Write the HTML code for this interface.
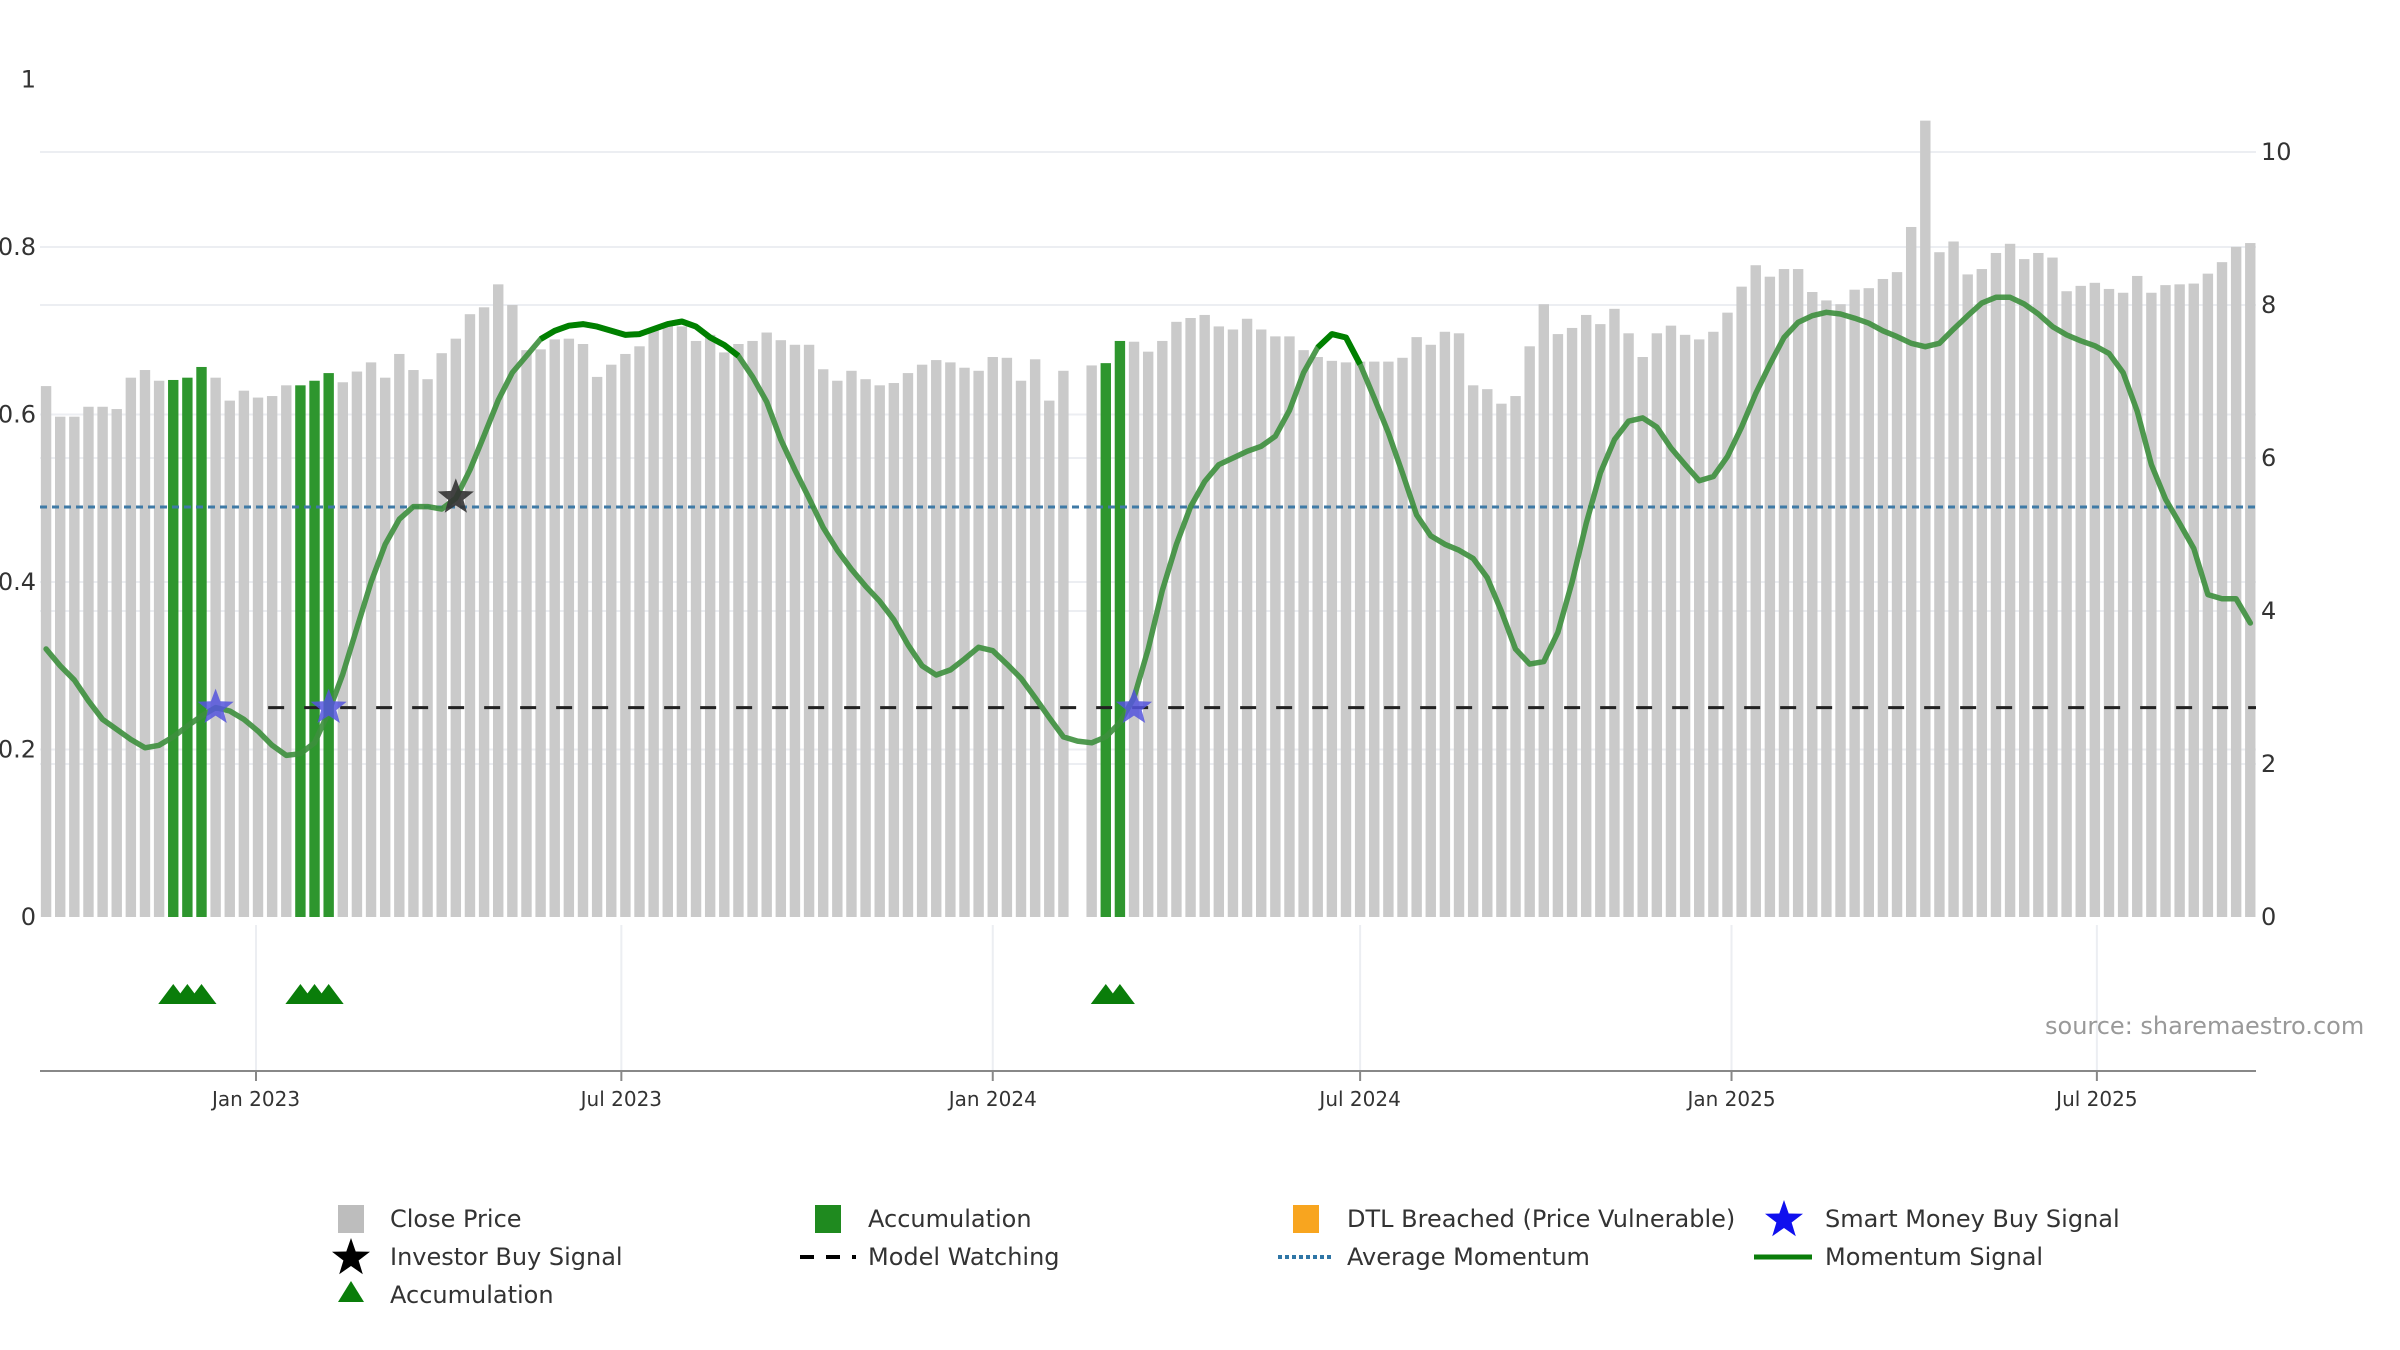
<!DOCTYPE html>
<html><head><meta charset="utf-8"><style>
html,body{margin:0;padding:0;background:#fff;}
svg{display:block;font-family:"DejaVu Sans","Liberation Sans",sans-serif;}
</style></head><body>
<svg id="chart" width="2400" height="1350" viewBox="0 0 2400 1350" xmlns="http://www.w3.org/2000/svg">
<g id="grid"></g>
<g id="bars"></g>
<g id="lines"></g>
<g id="marks"></g>
<g id="axes"></g>
<text x="2045" y="1034" font-size="24" fill="#999">source: sharemaestro.com</text>
<g id="legend" font-size="24" fill="#333"></g>
</svg>
<script>
const startDate = "2022-09-19";
const closePrices = [6.94,6.54,6.54,6.67,6.67,6.64,7.05,7.15,7.01,7.02,7.05,7.19,7.05,6.75,6.88,6.79,6.81,6.95,6.95,7.01,
7.11,6.99,7.13,7.25,7.05,7.36,7.15,7.03,7.37,7.56,7.88,7.97,8.27,8.00,7.41,7.42,7.55,7.56,7.49,7.06,
7.22,7.36,7.46,7.70,7.76,7.72,7.53,7.61,7.38,7.49,7.53,7.64,7.54,7.48,7.48,7.16,7.01,7.14,7.03,6.95,
6.98,7.11,7.22,7.28,7.25,7.18,7.14,7.32,7.31,7.01,7.29,6.75,7.14,null,7.21,7.24,7.53,7.52,7.39,7.53,
7.78,7.83,7.87,7.72,7.68,7.82,7.68,7.59,7.59,7.41,7.32,7.27,7.25,7.26,7.26,7.26,7.31,7.58,7.48,7.65,
7.63,6.95,6.90,6.71,6.81,7.46,8.01,7.62,7.70,7.87,7.75,7.95,7.63,7.32,7.63,7.73,7.61,7.55,7.65,7.90,
8.24,8.52,8.37,8.47,8.47,8.17,8.06,8.01,8.20,8.22,8.34,8.43,9.02,10.41,8.69,8.83,8.40,8.47,8.68,8.80,
8.60,8.68,8.62,8.18,8.25,8.29,8.21,8.16,8.38,8.16,8.26,8.27,8.28,8.41,8.56,8.76,8.81];
const momentum = [0.320,0.300,0.283,0.258,0.236,0.224,0.212,0.202,0.205,0.215,
0.228,0.240,0.250,0.246,0.236,0.222,0.205,0.193,0.195,0.208,
0.245,0.290,0.345,0.400,0.445,0.475,0.490,0.490,0.487,0.500,
0.534,0.575,0.617,0.650,0.670,0.690,0.700,0.706,0.708,0.705,
0.700,0.695,0.696,0.702,0.708,0.711,0.705,0.692,0.683,0.670,
0.645,0.615,0.570,0.534,0.500,0.465,0.438,0.415,0.395,0.377,
0.355,0.325,0.300,0.289,0.295,0.308,0.322,0.318,0.302,0.285,
0.262,0.238,0.215,0.210,0.208,0.215,0.232,0.262,0.320,0.390,
0.445,0.490,0.520,0.540,0.548,0.556,0.562,0.574,0.605,0.650,
0.680,0.696,0.692,0.660,0.620,0.578,0.530,0.480,0.455,0.445,
0.438,0.428,0.405,0.365,0.320,0.302,0.305,0.340,0.400,0.470,
0.530,0.570,0.592,0.596,0.585,0.560,0.540,0.521,0.526,0.550,
0.585,0.625,0.660,0.692,0.710,0.718,0.722,0.720,0.715,0.709,
0.700,0.693,0.685,0.681,0.685,0.702,0.718,0.733,0.740,0.740,
0.732,0.720,0.705,0.695,0.688,0.682,0.673,0.650,0.604,0.540,
0.499,0.470,0.440,0.385,0.380,0.380,0.351];
const accumulationBars = [10,11,12,19,20,21,76,77];
const strongSegments = [[36,50],[91,94]];
const smartMoneyBars = [13,21,78];
const investorBuyBars = [30];
const investorBuyValue = 0.501;
const avgMomentum = 0.4896;
const modelWatching = 0.25;
const modelWatchStart = 17;
const leftTicks = [0,0.2,0.4,0.6,0.8,1];
const leftTickLabels = ["0","0.2","0.4","0.6","0.8","1"];
const rightTicks = [0,2,4,6,8,10];
const xTickDates = ["2023-01-01","2023-07-01","2024-01-01","2024-07-01","2025-01-01","2025-07-01"];
const xTickLabels = ["Jan 2023","Jul 2023","Jan 2024","Jul 2024","Jan 2025","Jul 2025"];

const NS="http://www.w3.org/2000/svg";
const PL=40, PR=2256, Y0=917;
const DAY=86400000, t0=Date.parse("2023-01-01");
function xDate(ms){return 256+(ms-t0)/DAY*2.0185;}
function xBar(i){return xDate(Date.parse(startDate)+(i-1)*7*DAY);}
function yL(v){return Y0-v*837.5;}
function yR(v){return Y0-v*76.5;}
function mk(tag,attrs,parent){const e=document.createElementNS(NS,tag);for(const k in attrs)e.setAttribute(k,attrs[k]);parent.appendChild(e);return e;}
const G=id=>document.getElementById(id);

rightTicks.forEach(v=>{if(v>0){const l=mk('line',{x1:PL,x2:PR,y1:yR(v),y2:yR(v),stroke:'#eceef2','stroke-width':2},G('grid'));

}});
leftTicks.forEach(v=>{if(v>0&&v<1){const l=mk('line',{x1:PL,x2:PR,y1:yL(v),y2:yL(v),stroke:'#eceef2','stroke-width':2},G('grid'));

}});
xTickDates.forEach(d=>{const x=xDate(Date.parse(d));const l=mk('line',{x1:x,x2:x,y1:925,y2:1071,stroke:'#eceef2','stroke-width':2},G('grid'));

});

closePrices.forEach((v,k)=>{if(v==null)return;const i=k+1;const acc=accumulationBars.includes(i);
const r=mk('rect',{x:xBar(i)-5.2,y:yR(v),width:10.4,height:Y0-yR(v),fill:acc?'#2e962e':'#cacaca'},G('bars'));

});

let a=mk('line',{x1:PL,x2:PR,y1:yL(avgMomentum),y2:yL(avgMomentum),stroke:'#3f7aa6','stroke-width':3,'stroke-dasharray':'7 5'},G('lines'));


let m=mk('line',{x1:xBar(modelWatchStart)-4,x2:PR,y1:yL(modelWatching),y2:yL(modelWatching),stroke:'#222','stroke-width':3,'stroke-dasharray':'16 20'},G('lines'));



function pathFor(i0,i1){let d='';for(let i=i0;i<=i1;i++){d+=(i===i0?'M':'L')+xBar(i).toFixed(1)+','+yL(momentum[i-1]).toFixed(1);}return d;}
let ml=mk('path',{d:pathFor(1,momentum.length),fill:'none',stroke:'#3d8f3d','stroke-width':5.5,'stroke-linejoin':'round','stroke-linecap':'round','stroke-opacity':0.9},G('lines'));


strongSegments.forEach(s=>{const p=mk('path',{d:pathFor(s[0],s[1]),fill:'none',stroke:'#008000','stroke-width':6,'stroke-linejoin':'round'},G('lines'));

});

function star(cx,cy,R,r){let pts=[];for(let k=0;k<10;k++){const ang=-Math.PI/2+k*Math.PI/5;const rr=k%2?r:R;pts.push((cx+rr*Math.cos(ang)).toFixed(1)+','+(cy+rr*Math.sin(ang)).toFixed(1));}return pts.join(' ');}
smartMoneyBars.forEach(i=>{const s=mk('polygon',{points:star(xBar(i),yL(modelWatching),19,8),fill:'#5555dd','fill-opacity':0.85},G('marks'));

});
investorBuyBars.forEach(i=>{const s=mk('polygon',{points:star(xBar(i),yL(investorBuyValue),19,8),fill:'#333','fill-opacity':0.9},G('marks'));

});
accumulationBars.forEach(i=>{const x=xBar(i);const t=mk('polygon',{points:`${x-15},1004 ${x+15},1004 ${x},984`,fill:'#0a7d0a'},G('marks'));

});

let ax=mk('line',{x1:PL,x2:PR,y1:1071,y2:1071,stroke:'#888','stroke-width':2},G('axes'));


xTickDates.forEach((d,k)=>{const x=xDate(Date.parse(d));
const tk=mk('line',{x1:x,x2:x,y1:1071,y2:1081,stroke:'#888','stroke-width':2},G('axes'));


const t=mk('text',{x:x,y:1106,'font-size':20,'text-anchor':'middle',fill:'#333'},G('axes'));t.textContent=xTickLabels[k];

});
leftTicks.forEach((v,k)=>{const t=mk('text',{x:36,y:yL(v)+8,'font-size':24,'text-anchor':'end',fill:'#333'},G('axes'));t.textContent=leftTickLabels[k];

});
rightTicks.forEach(v=>{const t=mk('text',{x:2261,y:yR(v)+8,'font-size':24,fill:'#333'},G('axes'));t.textContent=String(v);

});

const L=G('legend');
function ltext(x,y,s,name){const t=mk('text',{x:x,y:y+8},L);t.textContent=s;

}
mk('rect',{x:338,y:1205,width:26,height:28,fill:'#bdbdbd'},L);ltext(390,1219,'Close Price','legend-close-price');
mk('rect',{x:815,y:1205,width:26,height:28,fill:'#1f8a1f'},L);ltext(868,1219,'Accumulation','legend-accumulation');
mk('rect',{x:1293,y:1205,width:26,height:28,fill:'#f8a51f'},L);ltext(1347,1219,'DTL Breached (Price Vulnerable)','legend-dtl-breached');
mk('polygon',{points:star(1784,1220,20,8),fill:'#1010ee'},L);ltext(1825,1219,'Smart Money Buy Signal','legend-smart-money');
mk('polygon',{points:star(351,1258,20,8),fill:'#000'},L);ltext(390,1257,'Investor Buy Signal','legend-investor-buy');
mk('line',{x1:800,x2:856,y1:1257,y2:1257,stroke:'#000','stroke-width':4,'stroke-dasharray':'14 12'},L);ltext(868,1257,'Model Watching','legend-model-watching');
mk('line',{x1:1278,x2:1334,y1:1257,y2:1257,stroke:'#2f76a6','stroke-width':4,'stroke-dasharray':'4 3'},L);ltext(1347,1257,'Average Momentum','legend-average-momentum');
mk('line',{x1:1754,x2:1812,y1:1257,y2:1257,stroke:'#0a7d0a','stroke-width':5},L);ltext(1825,1257,'Momentum Signal','legend-momentum-signal');
mk('polygon',{points:'338,1302 364,1302 351,1281',fill:'#0a7d0a'},L);ltext(390,1295,'Accumulation','legend-accumulation-triangle');
</script>
</body></html>
